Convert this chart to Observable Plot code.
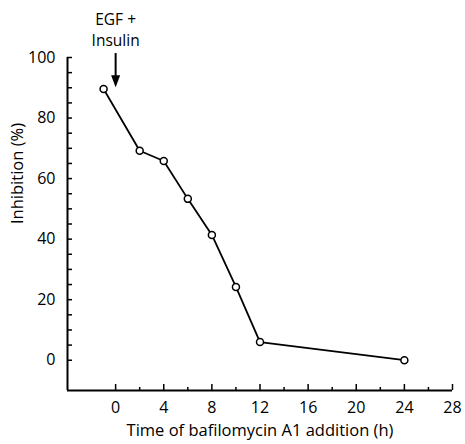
<!DOCTYPE html>
<html>
<head>
<meta charset="utf-8">
<script src="https://cdn.jsdelivr.net/npm/d3@7"></script>
<script src="https://cdn.jsdelivr.net/npm/@observablehq/plot@0.6"></script>
<style>
  html, body { margin: 0; padding: 0; background: #fff; }
</style>
</head>
<body>
<div id="chart"></div>
<script>
// Data
const time = [-1, 2, 4, 6, 8, 10, 12, 24];
const inhibition = [89.6, 69.2, 65.8, 53.3, 41.4, 24.2, 6.0, 0];

// Axis ticks
const xTicks = [0, 4, 8, 12, 16, 20, 24, 28];
const xMinorTicks = [2, 6, 10, 14, 18, 22, 26];
const yTicks = [0, 20, 40, 60, 80, 100];
const yMinorTicks = d3.range(0, 101, 5);

// Labels and annotation
const xLabel = "Time of bafilomycin A1 addition (h)";
const yLabel = "Inhibition (%)";
const annotationLine1 = "EGF +";
const annotationLine2 = "Insulin";
const annotationX = [0];
const arrowTop = 101.3;
const arrowTip = 90.2;

const data = time.map((t, i) => ({time: t, inhibition: inhibition[i]}));

const arrowHead = {
  draw(ctx) {
    ctx.moveTo(0, 0);
    ctx.lineTo(-4.5, -12);
    ctx.lineTo(4.5, -12);
    ctx.closePath();
  }
};

const chart = Plot.plot({
  width: 465,
  height: 444,
  marginLeft: 67,
  marginRight: 13,
  marginTop: 57,
  marginBottom: 54,
  style: {fontFamily: "'Open Sans', sans-serif", fontSize: "16px", color: "#000", background: "#fff"},
  x: {domain: [-4, 28], label: null},
  y: {domain: [-10, 100], label: null},
  marks: [
    // axis lines
    Plot.ruleX([-4], {y1: -10, y2: 100, strokeWidth: 2, stroke: "#000"}),
    Plot.ruleY([-10], {x1: -4, x2: 28, strokeWidth: 2, stroke: "#000"}),
    // inward ticks
    Plot.axisY({ticks: yMinorTicks, tickSize: 5, dx: 5, tickFormat: () => "", label: null, strokeWidth: 1.5}),
    Plot.axisX({ticks: xTicks, tickSize: 6, dy: -6, tickFormat: () => "", label: null, strokeWidth: 1.5}),
    Plot.axisX({ticks: xMinorTicks, tickSize: 3, dy: -3, tickFormat: () => "", label: null, strokeWidth: 1.5}),
    // tick labels
    Plot.axisY({ticks: yTicks, tickSize: 0, tickPadding: 12, label: null, fontSize: 16}),
    Plot.axisX({ticks: xTicks, tickSize: 0, tickPadding: 11, label: null, fontSize: 16}),
    // axis titles
    Plot.text([xLabel], {frameAnchor: "bottom", dy: 45, text: d => d, fontSize: 16.5}),
    Plot.text([yLabel], {frameAnchor: "left", dx: -50, rotate: -90, text: d => d, fontSize: 16.5}),
    // annotation
    Plot.text(annotationX, {x: d => d, frameAnchor: "top", lineAnchor: "middle", dy: -37, text: () => annotationLine1, fontSize: 15.5}),
    Plot.text(annotationX, {x: d => d, frameAnchor: "top", lineAnchor: "middle", dy: -16, text: () => annotationLine2, fontSize: 15.5}),
    Plot.ruleX(annotationX, {x: d => d, y1: arrowTop, y2: arrowTip + 3, strokeWidth: 2, stroke: "#000", clip: false}),
    Plot.dot(annotationX, {x: d => d, y: arrowTip, symbol: arrowHead, fill: "#000", stroke: "none", r: 5}),
    // data
    Plot.line(data, {x: "time", y: "inhibition", stroke: "#000", strokeWidth: 1.8}),
    Plot.dot(data, {x: "time", y: "inhibition", r: 3.5, fill: "#fff", stroke: "#000", strokeWidth: 1.5})
  ]
});

document.getElementById("chart").appendChild(chart);
</script>
</body>
</html>
